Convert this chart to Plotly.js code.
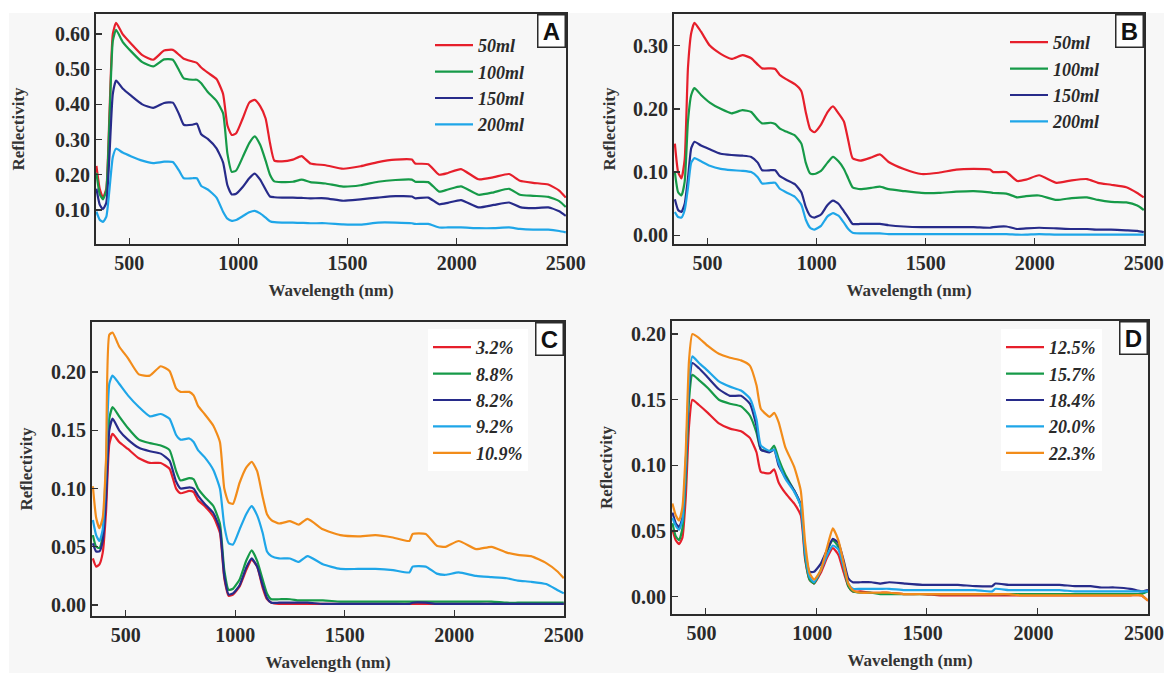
<!DOCTYPE html>
<html><head><meta charset="utf-8">
<script src="https://cdn.plot.ly/plotly-3.0.1.min.js"></script>
<style>html,body{margin:0;padding:0;background:#fff}#chart{width:1164px;height:673px}</style>
</head><body><div id="chart"></div>
<script>
// ---------- DATA ----------
const wavelength = [350, 365, 380, 395, 410, 425, 440, 470, 510, 560,
  610, 660, 700, 730, 750, 790, 810, 830, 860, 900,
  930, 950, 970, 990, 1020, 1050, 1075, 1100, 1125, 1145,
  1165, 1200, 1250, 1290, 1330, 1400, 1480, 1560, 1640, 1720,
  1795, 1810, 1870, 1920, 1960, 2020, 2100, 2170, 2240, 2290,
  2350, 2420, 2470, 2500];
const xTickVals = [500, 1000, 1500, 2000, 2500];

// Panel A
const labelsA = ['50ml', '100ml', '150ml', '200ml'];
const a50 = [0.225, 0.160, 0.135, 0.160, 0.380, 0.600, 0.632, 0.600, 0.572, 0.540,
  0.527, 0.553, 0.555, 0.540, 0.530, 0.522, 0.518, 0.505, 0.490, 0.472,
  0.430, 0.340, 0.313, 0.318, 0.360, 0.405, 0.413, 0.395, 0.360, 0.290,
  0.240, 0.238, 0.243, 0.253, 0.232, 0.227, 0.217, 0.224, 0.236, 0.243,
  0.243, 0.232, 0.230, 0.200, 0.205, 0.216, 0.187, 0.193, 0.202, 0.183,
  0.177, 0.172, 0.155, 0.135];
const a100 = [0.205, 0.145, 0.130, 0.155, 0.360, 0.580, 0.612, 0.578, 0.550, 0.520,
  0.508, 0.528, 0.527, 0.495, 0.474, 0.470, 0.470, 0.460, 0.435, 0.410,
  0.375, 0.260, 0.208, 0.212, 0.250, 0.290, 0.309, 0.285, 0.240, 0.200,
  0.181, 0.179, 0.180, 0.186, 0.179, 0.175, 0.166, 0.170, 0.180, 0.185,
  0.186, 0.180, 0.179, 0.152, 0.158, 0.167, 0.143, 0.150, 0.160, 0.143,
  0.140, 0.137, 0.125, 0.108];
const a150 = [0.160, 0.115, 0.102, 0.120, 0.260, 0.430, 0.468, 0.445, 0.424, 0.400,
  0.390, 0.404, 0.405, 0.370, 0.342, 0.342, 0.345, 0.315, 0.302, 0.275,
  0.235, 0.170, 0.144, 0.146, 0.165, 0.190, 0.203, 0.186, 0.158, 0.138,
  0.136, 0.135, 0.135, 0.134, 0.133, 0.133, 0.126, 0.130, 0.135, 0.139,
  0.138, 0.133, 0.135, 0.116, 0.120, 0.128, 0.107, 0.114, 0.121, 0.108,
  0.105, 0.107, 0.096, 0.083];
const a200 = [0.095, 0.072, 0.066, 0.080, 0.160, 0.250, 0.274, 0.263, 0.252, 0.240,
  0.233, 0.237, 0.236, 0.210, 0.190, 0.190, 0.190, 0.168, 0.158, 0.135,
  0.095, 0.075, 0.069, 0.071, 0.082, 0.093, 0.097, 0.090, 0.078, 0.068,
  0.065, 0.064, 0.064, 0.063, 0.062, 0.062, 0.059, 0.058, 0.064, 0.064,
  0.062, 0.060, 0.060, 0.050, 0.050, 0.050, 0.048, 0.048, 0.050, 0.046,
  0.044, 0.044, 0.040, 0.036];

// Panel B
const labelsB = ['50ml', '100ml', '150ml', '200ml'];
const b50 = [0.145, 0.100, 0.090, 0.120, 0.265, 0.320, 0.336, 0.322, 0.300, 0.287,
  0.279, 0.285, 0.280, 0.270, 0.264, 0.264, 0.263, 0.254, 0.247, 0.239,
  0.228, 0.195, 0.168, 0.163, 0.175, 0.195, 0.204, 0.193, 0.180, 0.150,
  0.122, 0.118, 0.123, 0.128, 0.116, 0.105, 0.097, 0.099, 0.104, 0.105,
  0.104, 0.100, 0.100, 0.086, 0.088, 0.095, 0.083, 0.087, 0.089, 0.083,
  0.080, 0.076, 0.067, 0.060];
const b100 = [0.100, 0.068, 0.063, 0.085, 0.180, 0.222, 0.233, 0.222, 0.210, 0.200,
  0.193, 0.198, 0.195, 0.183, 0.177, 0.178, 0.176, 0.169, 0.164, 0.158,
  0.145, 0.115, 0.098, 0.097, 0.102, 0.115, 0.124, 0.117, 0.105, 0.090,
  0.076, 0.073, 0.075, 0.077, 0.073, 0.070, 0.067, 0.067, 0.069, 0.070,
  0.068, 0.067, 0.066, 0.060, 0.062, 0.063, 0.056, 0.059, 0.060, 0.056,
  0.053, 0.052, 0.047, 0.040];
const b150 = [0.057, 0.040, 0.037, 0.050, 0.090, 0.138, 0.148, 0.142, 0.136, 0.129,
  0.127, 0.126, 0.124, 0.115, 0.103, 0.103, 0.103, 0.094, 0.088, 0.081,
  0.068, 0.045, 0.031, 0.028, 0.033, 0.048, 0.055, 0.050, 0.038, 0.028,
  0.018, 0.018, 0.018, 0.018, 0.016, 0.014, 0.013, 0.013, 0.013, 0.013,
  0.012, 0.013, 0.014, 0.010, 0.011, 0.012, 0.011, 0.010, 0.010, 0.009,
  0.009, 0.008, 0.007, 0.005];
const b200 = [0.037, 0.029, 0.028, 0.040, 0.075, 0.115, 0.122, 0.117, 0.110, 0.105,
  0.103, 0.102, 0.100, 0.092, 0.082, 0.083, 0.083, 0.074, 0.068, 0.061,
  0.048, 0.025, 0.012, 0.009, 0.015, 0.030, 0.035, 0.031, 0.020, 0.010,
  0.004, 0.003, 0.003, 0.003, 0.002, 0.002, 0.002, 0.002, 0.002, 0.002,
  0.002, 0.002, 0.002, 0.001, 0.001, 0.002, 0.001, 0.001, 0.001, 0.001,
  0.001, 0.001, 0.001, 0.001];

// Panel C
const labelsC = ['3.2%', '8.8%', '8.2%', '9.2%', '10.9%'];
const c32 = [0.040, 0.033, 0.035, 0.045, 0.080, 0.138, 0.147, 0.140, 0.134, 0.126,
  0.122, 0.122, 0.117, 0.100, 0.096, 0.098, 0.097, 0.090, 0.085, 0.076,
  0.062, 0.023, 0.008, 0.009, 0.016, 0.030, 0.039, 0.033, 0.015, 0.005,
  0.002, 0.001, 0.001, 0.001, 0.001, 0.001, 0.001, 0.001, 0.001, 0.001,
  0.001, 0.001, 0.001, 0.001, 0.001, 0.001, 0.001, 0.001, 0.001, 0.001,
  0.001, 0.001, 0.001, 0.001];
const c88 = [0.060, 0.050, 0.049, 0.060, 0.100, 0.160, 0.170, 0.162, 0.152, 0.142,
  0.139, 0.137, 0.133, 0.115, 0.107, 0.109, 0.108, 0.100, 0.093, 0.085,
  0.070, 0.030, 0.013, 0.014, 0.022, 0.038, 0.047, 0.038, 0.022, 0.010,
  0.005, 0.005, 0.005, 0.004, 0.004, 0.004, 0.003, 0.003, 0.003, 0.003,
  0.003, 0.003, 0.003, 0.003, 0.003, 0.003, 0.003, 0.003, 0.002, 0.002,
  0.002, 0.002, 0.002, 0.002];
const c82 = [0.053, 0.046, 0.046, 0.055, 0.090, 0.150, 0.160, 0.150, 0.142, 0.135,
  0.132, 0.130, 0.124, 0.106, 0.100, 0.101, 0.100, 0.094, 0.087, 0.079,
  0.065, 0.025, 0.009, 0.010, 0.017, 0.032, 0.040, 0.033, 0.017, 0.006,
  0.002, 0.002, 0.002, 0.002, 0.002, 0.001, 0.001, 0.001, 0.001, 0.001,
  0.001, 0.002, 0.002, 0.001, 0.001, 0.001, 0.001, 0.001, 0.001, 0.001,
  0.001, 0.001, 0.001, 0.001];
const c92 = [0.073, 0.060, 0.055, 0.065, 0.120, 0.190, 0.197, 0.190, 0.180, 0.170,
  0.162, 0.164, 0.160, 0.146, 0.142, 0.143, 0.140, 0.133, 0.127, 0.116,
  0.100, 0.068, 0.053, 0.052, 0.065, 0.078, 0.085, 0.077, 0.062, 0.046,
  0.042, 0.040, 0.040, 0.037, 0.042, 0.035, 0.031, 0.031, 0.031, 0.030,
  0.028, 0.033, 0.033, 0.027, 0.026, 0.028, 0.025, 0.024, 0.023, 0.021,
  0.020, 0.018, 0.013, 0.010];
const c109 = [0.102, 0.075, 0.066, 0.075, 0.125, 0.232, 0.234, 0.222, 0.212, 0.198,
  0.197, 0.205, 0.201, 0.186, 0.183, 0.183, 0.180, 0.171, 0.164, 0.154,
  0.140, 0.100, 0.088, 0.087, 0.105, 0.118, 0.123, 0.115, 0.093, 0.078,
  0.073, 0.070, 0.072, 0.069, 0.074, 0.065, 0.060, 0.059, 0.060, 0.058,
  0.055, 0.061, 0.061, 0.051, 0.050, 0.055, 0.048, 0.050, 0.045, 0.043,
  0.042, 0.036, 0.029, 0.023];

// Panel D
const labelsD = ['12.5%', '15.7%', '18.4%', '20.0%', '22.3%'];
const d125 = [0.051, 0.043, 0.040, 0.045, 0.075, 0.130, 0.150, 0.146, 0.140, 0.132,
  0.128, 0.126, 0.121, 0.110, 0.095, 0.094, 0.097, 0.087, 0.079, 0.071,
  0.062, 0.028, 0.013, 0.010, 0.018, 0.030, 0.037, 0.032, 0.018, 0.008,
  0.004, 0.004, 0.003, 0.003, 0.003, 0.002, 0.002, 0.001, 0.001, 0.001,
  0.001, 0.001, 0.001, 0.001, 0.001, 0.001, 0.001, 0.001, 0.001, 0.001,
  0.001, 0.001, 0.001, -0.003];
const d157 = [0.056, 0.046, 0.043, 0.052, 0.090, 0.150, 0.169, 0.165, 0.159, 0.150,
  0.147, 0.145, 0.138, 0.125, 0.112, 0.111, 0.115, 0.105, 0.093, 0.081,
  0.069, 0.030, 0.013, 0.010, 0.020, 0.035, 0.043, 0.038, 0.022, 0.008,
  0.004, 0.003, 0.003, 0.002, 0.002, 0.002, 0.002, 0.002, 0.002, 0.002,
  0.002, 0.002, 0.002, 0.002, 0.002, 0.002, 0.002, 0.002, 0.002, 0.002,
  0.002, 0.002, 0.002, 0.004];
const d184 = [0.064, 0.056, 0.053, 0.060, 0.100, 0.160, 0.178, 0.174, 0.167, 0.158,
  0.153, 0.153, 0.147, 0.130, 0.112, 0.110, 0.112, 0.100, 0.091, 0.081,
  0.070, 0.034, 0.019, 0.019, 0.025, 0.036, 0.044, 0.041, 0.027, 0.014,
  0.011, 0.011, 0.011, 0.010, 0.011, 0.010, 0.009, 0.009, 0.009, 0.008,
  0.008, 0.010, 0.009, 0.009, 0.009, 0.009, 0.009, 0.008, 0.008, 0.007,
  0.007, 0.006, 0.004, 0.005];
const d200 = [0.060, 0.054, 0.051, 0.058, 0.100, 0.165, 0.183, 0.178, 0.172, 0.164,
  0.160, 0.157, 0.151, 0.135, 0.115, 0.111, 0.112, 0.102, 0.090, 0.080,
  0.069, 0.033, 0.015, 0.011, 0.020, 0.032, 0.039, 0.036, 0.022, 0.010,
  0.006, 0.006, 0.006, 0.006, 0.006, 0.005, 0.005, 0.005, 0.005, 0.005,
  0.004, 0.006, 0.005, 0.005, 0.005, 0.005, 0.005, 0.004, 0.004, 0.004,
  0.004, 0.004, 0.004, 0.004];
const d223 = [0.071, 0.062, 0.058, 0.068, 0.110, 0.180, 0.200, 0.197, 0.191, 0.185,
  0.182, 0.180, 0.176, 0.161, 0.143, 0.137, 0.140, 0.133, 0.114, 0.099,
  0.081, 0.041, 0.018, 0.013, 0.020, 0.038, 0.052, 0.043, 0.025, 0.010,
  0.005, 0.003, 0.003, 0.003, 0.003, 0.002, 0.002, 0.002, 0.002, 0.002,
  0.002, 0.002, 0.002, 0.001, 0.001, 0.001, 0.001, 0.001, 0.001, 0.001,
  0.001, 0.001, 0.001, -0.003];

// ---------- STYLE ----------
const RED = '#e61f2b', GREEN = '#169a48', BLUE = '#272b8a', CYAN = '#1fa6e8', ORANGE = '#f28c1a';
const SERIF = 'Liberation Serif';
const SANS = 'Liberation Sans';
const W = 1164, H = 673;

function line(y, name, color, xa, ya, leg) {
  return {x: wavelength, y: y, name: name, type: 'scatter', mode: 'lines',
    line: {color: color, width: 2.2, shape: 'spline', smoothing: 0.5},
    xaxis: xa, yaxis: ya, legend: leg, hoverinfo: 'skip'};
}

const traces = [
  line(a50, labelsA[0], RED, 'x', 'y', 'legend'),
  line(a100, labelsA[1], GREEN, 'x', 'y', 'legend'),
  line(a150, labelsA[2], BLUE, 'x', 'y', 'legend'),
  line(a200, labelsA[3], CYAN, 'x', 'y', 'legend'),
  line(b50, labelsB[0], RED, 'x2', 'y2', 'legend2'),
  line(b100, labelsB[1], GREEN, 'x2', 'y2', 'legend2'),
  line(b150, labelsB[2], BLUE, 'x2', 'y2', 'legend2'),
  line(b200, labelsB[3], CYAN, 'x2', 'y2', 'legend2'),
  line(c32, labelsC[0], RED, 'x3', 'y3', 'legend3'),
  line(c88, labelsC[1], GREEN, 'x3', 'y3', 'legend3'),
  line(c82, labelsC[2], BLUE, 'x3', 'y3', 'legend3'),
  line(c92, labelsC[3], CYAN, 'x3', 'y3', 'legend3'),
  line(c109, labelsC[4], ORANGE, 'x3', 'y3', 'legend3'),
  line(d125, labelsD[0], RED, 'x4', 'y4', 'legend4'),
  line(d157, labelsD[1], GREEN, 'x4', 'y4', 'legend4'),
  line(d184, labelsD[2], BLUE, 'x4', 'y4', 'legend4'),
  line(d200, labelsD[3], CYAN, 'x4', 'y4', 'legend4'),
  line(d223, labelsD[4], ORANGE, 'x4', 'y4', 'legend4')
];

const tickFont = {family: SERIF, size: 20, color: '#2a2a2a', weight: 'bold'};
const titleFont = {family: SERIF, size: 17, color: '#333333', weight: 'bold'};
const legFont = {family: SERIF, size: 18, color: '#2a2a2a', weight: 'bold', style: 'italic'};

function px(l, r) { return [l / W, r / W]; }
function py(t, b) { return [1 - b / H, 1 - t / H]; }

function xAxis(dom, anchor, range) {
  return {domain: dom, anchor: anchor, range: range, tickvals: xTickVals,
    ticks: 'inside', ticklen: 6, tickwidth: 1.3, tickcolor: '#333',
    showline: true, linecolor: '#2b2b2b', linewidth: 2, mirror: true,
    showgrid: false, zeroline: false, tickfont: tickFont,
    title: {text: 'Wavelength (nm)', font: titleFont, standoff: 11}};
}
function yAxis(dom, anchor, range, dtick, standoff) {
  return {domain: dom, anchor: anchor, range: range, dtick: dtick, tick0: 0,
    tickformat: '.2f', ticks: 'inside', ticklen: 6, tickwidth: 1.3, tickcolor: '#333',
    showline: true, linecolor: '#2b2b2b', linewidth: 2, mirror: true,
    showgrid: false, zeroline: false, tickfont: tickFont,
    title: {text: 'Reflectivity', font: titleFont, standoff: standoff}};
}
function legend(xl, yt, bg) {
  return {x: xl / W, y: 1 - yt / H, xanchor: 'left', yanchor: 'top',
    bgcolor: bg, borderwidth: 0, font: legFont, itemwidth: 38,
    tracegroupgap: 0, itemclick: false, itemdoubleclick: false};
}
function letter(t, xr, yt) {
  return {text: t, x: xr / W, y: 1 - yt / H, xref: 'paper', yref: 'paper',
    xanchor: 'right', yanchor: 'top', showarrow: false,
    font: {family: SANS, size: 24, color: '#111', weight: 'bold'},
    bgcolor: '#ffffff', bordercolor: '#2b2b2b', borderwidth: 1.5, borderpad: 1,
    width: 24, height: 29};
}

const xAxisD = xAxis(px(672, 1148), 'y4', [348, 2500]);
xAxisD.ticklabeloverflow = 'allow';
xAxisD.ticklabelshift = -4;

const layout = {
  width: W, height: H, margin: {l: 0, r: 0, t: 0, b: 0},
  paper_bgcolor: '#ffffff', plot_bgcolor: 'rgba(0,0,0,0)',
  showlegend: true,
  xaxis: xAxis(px(96, 566), 'y', [348, 2501]),
  yaxis: yAxis(py(14, 244), 'x', [0.003, 0.657], 0.1, 26),
  xaxis2: xAxis(px(674, 1144), 'y2', [346, 2501]),
  yaxis2: yAxis(py(14, 244), 'x2', [-0.0137, 0.35], 0.1, 13),
  xaxis3: xAxis(px(92, 564), 'y3', [346, 2501]),
  yaxis3: yAxis(py(322, 616), 'x3', [-0.0094, 0.243], 0.05, 14),
  xaxis4: xAxisD,
  yaxis4: yAxis(py(321, 614), 'x4', [-0.0132, 0.210], 0.05, 14),
  legend: legend(430, 27, 'rgba(0,0,0,0)'),
  legend2: legend(1005, 24, 'rgba(0,0,0,0)'),
  legend3: legend(428, 329, '#ffffff'),
  legend4: legend(1001, 329, '#ffffff'),
  annotations: [
    letter('A', 566, 14), letter('B', 1144, 14),
    letter('C', 564, 322), letter('D', 1148, 321)
  ],
  shapes: [{type: 'rect', xref: 'paper', yref: 'paper', layer: 'below',
    x0: 9 / W, x1: 1, y0: 0, y1: 1 - 13 / H,
    fillcolor: '#f7f7f7', line: {width: 0}}]
};

Plotly.newPlot('chart', traces, layout, {staticPlot: true, displayModeBar: false});
</script>
</body></html>
